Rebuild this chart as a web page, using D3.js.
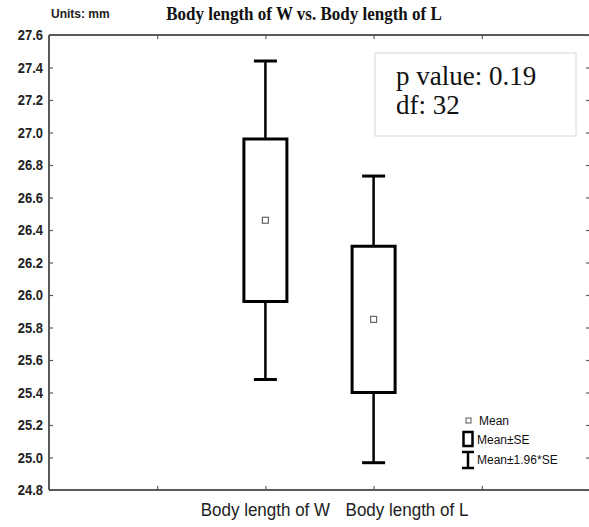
<!DOCTYPE html>
<html>
<head>
<meta charset="utf-8">
<script src="https://cdn.jsdelivr.net/npm/d3@7"></script>
<style>
  html, body { margin: 0; padding: 0; background: #fff; }
  svg { display: block; }
</style>
</head>
<body>
<svg id="chart" width="589" height="527"></svg>
<script>
// ---- data ----
const categories = ["Body length of W", "Body length of L"];
const means = [26.46, 25.85];
const standardErrors = [0.50, 0.45];
const seMultiplier = 1.96;
const yTickValues = [24.8, 25.0, 25.2, 25.4, 25.6, 25.8, 26.0, 26.2, 26.4, 26.6, 26.8, 27.0, 27.2, 27.4, 27.6];
const titleText = "Body length of W vs. Body length of L";
const unitsText = "Units: mm";
const statLines = ["p value: 0.19", "df: 32"];
const legendLabels = ["Mean", "Mean\u00B1SE", "Mean\u00B11.96*SE"];

(function () {
// ---- layout ----
const pLeft = 49, pRight = 590, pTop = 35, pBottom = 490;
const svg = d3.select("#chart");

const x = d3.scaleLinear().domain([-2, 3]).range([pLeft, pRight]);
const y = d3.scaleLinear().domain([24.8, 27.6]).range([pBottom, pTop]);

const axisColor = "#5a5a5a";

// frame lines
svg.append("line").attr("x1", pLeft).attr("x2", pRight).attr("y1", pTop).attr("y2", pTop)
  .attr("stroke", axisColor).attr("stroke-width", 2);
svg.append("line").attr("x1", pLeft).attr("x2", pRight).attr("y1", pBottom).attr("y2", pBottom)
  .attr("stroke", axisColor).attr("stroke-width", 2);
svg.append("line").attr("x1", pLeft).attr("x2", pLeft).attr("y1", pTop).attr("y2", pBottom)
  .attr("stroke", axisColor).attr("stroke-width", 2);

// left axis (inward ticks, labels outside)
const yAxisG = svg.append("g").attr("transform", `translate(${pLeft},0)`)
  .call(d3.axisRight(y).tickValues(yTickValues).tickSize(4).tickFormat(""));
yAxisG.select(".domain").remove();
yAxisG.selectAll(".tick line").attr("stroke", axisColor).attr("stroke-width", 1.2);

svg.append("g").selectAll("text").data(yTickValues).join("text")
  .attr("transform", d => `translate(${pLeft - 6},${y(d)}) scale(1,1.08)`)
  .attr("dy", "0.36em")
  .attr("text-anchor", "end")
  .attr("font-family", "Liberation Sans, Arial, sans-serif")
  .attr("font-weight", "bold").attr("font-size", 13).attr("fill", "#222")
  .text(d => d3.format(".1f")(d));

// right axis (inward ticks only)
const yAxisR = svg.append("g").attr("transform", `translate(${pRight},0)`)
  .call(d3.axisLeft(y).tickValues(yTickValues).tickSize(4).tickFormat(""));
yAxisR.select(".domain").remove();
yAxisR.selectAll(".tick line").attr("stroke", axisColor).attr("stroke-width", 1.2);

// top and bottom category ticks (inward)
const xTicks = [-1, 0, 1, 2];
const xTop = svg.append("g").attr("transform", `translate(0,${pTop})`)
  .call(d3.axisBottom(x).tickValues(xTicks).tickSize(4).tickFormat(""));
xTop.select(".domain").remove();
xTop.selectAll(".tick line").attr("stroke", axisColor).attr("stroke-width", 1.2);
const xBot = svg.append("g").attr("transform", `translate(0,${pBottom})`)
  .call(d3.axisTop(x).tickValues(xTicks).tickSize(4).tickFormat(""));
xBot.select(".domain").remove();
xBot.selectAll(".tick line").attr("stroke", axisColor).attr("stroke-width", 1.2);

// category labels (first centred on its tick, second set just after it)
const labelAnchor = ["middle", "start"];
const labelShift = [0, -28];
svg.append("g").selectAll("text").data(categories).join("text")
  .attr("transform", (d, i) => `translate(${x(i) + labelShift[i]},516) scale(1,1.06)`)
  .attr("text-anchor", (d, i) => labelAnchor[i])
  .attr("font-family", "Liberation Sans, Arial, sans-serif")
  .attr("font-size", 17).attr("fill", "#222")
  .text(d => d);

// ---- boxes ----
const boxW = 43, capW = 23;
const data = categories.map((c, i) => ({
  i, mean: means[i], se: standardErrors[i]
}));
const g = svg.append("g");
data.forEach(d => {
  const cx = x(d.i);
  const hi = d.mean + seMultiplier * d.se, lo = d.mean - seMultiplier * d.se;
  const bHi = d.mean + d.se, bLo = d.mean - d.se;
  g.append("line").attr("x1", cx).attr("x2", cx).attr("y1", y(hi)).attr("y2", y(bHi))
    .attr("stroke", "#000").attr("stroke-width", 2.5);
  g.append("line").attr("x1", cx).attr("x2", cx).attr("y1", y(bLo)).attr("y2", y(lo))
    .attr("stroke", "#000").attr("stroke-width", 2.5);
  g.append("line").attr("x1", cx - capW / 2).attr("x2", cx + capW / 2).attr("y1", y(hi)).attr("y2", y(hi))
    .attr("stroke", "#000").attr("stroke-width", 3);
  g.append("line").attr("x1", cx - capW / 2).attr("x2", cx + capW / 2).attr("y1", y(lo)).attr("y2", y(lo))
    .attr("stroke", "#000").attr("stroke-width", 3);
  g.append("rect").attr("x", cx - boxW / 2).attr("y", y(bHi))
    .attr("width", boxW).attr("height", y(bLo) - y(bHi))
    .attr("fill", "none").attr("stroke", "#000").attr("stroke-width", 3);
  g.append("rect").attr("x", cx - 3).attr("y", y(d.mean) - 3)
    .attr("width", 6).attr("height", 6)
    .attr("fill", "#fff").attr("stroke", "#666").attr("stroke-width", 1.2);
});

// ---- title ----
svg.append("text").attr("transform", "translate(304,20) scale(1,1.1)").attr("text-anchor", "middle")
  .attr("font-family", "Liberation Serif, Times New Roman, serif")
  .attr("font-weight", "bold").attr("font-size", 17).attr("fill", "#111")
  .text(titleText);
svg.append("text").attr("x", 51).attr("y", 18)
  .attr("font-family", "Liberation Sans, Arial, sans-serif")
  .attr("font-weight", "bold").attr("font-size", 12).attr("fill", "#222")
  .text(unitsText);

// ---- stats box ----
svg.append("rect").attr("x", 375).attr("y", 53).attr("width", 201).attr("height", 83)
  .attr("fill", "#fff").attr("stroke", "#e4e4e4").attr("stroke-width", 1.5);
svg.append("g").selectAll("text").data(statLines).join("text")
  .attr("x", 396).attr("y", (d, i) => 85 + i * 29)
  .attr("font-family", "Liberation Serif, Times New Roman, serif")
  .attr("font-size", 27).attr("fill", "#111")
  .text(d => d);

// ---- legend ----
const lg = svg.append("g").attr("font-family", "Liberation Sans, Arial, sans-serif")
  .attr("font-size", 12).attr("fill", "#111");
lg.append("rect").attr("x", 466).attr("y", 418).attr("width", 5).attr("height", 5)
  .attr("fill", "#fff").attr("stroke", "#555").attr("stroke-width", 1);
lg.append("text").attr("x", 479).attr("y", 425).text(legendLabels[0]);
lg.append("rect").attr("x", 463.5).attr("y", 432).attr("width", 9).attr("height", 14)
  .attr("fill", "none").attr("stroke", "#000").attr("stroke-width", 2.5);
lg.append("text").attr("x", 477).attr("y", 444).text(legendLabels[1]);
lg.append("line").attr("x1", 468).attr("x2", 468).attr("y1", 452).attr("y2", 468)
  .attr("stroke", "#000").attr("stroke-width", 2.5);
lg.append("line").attr("x1", 462).attr("x2", 474).attr("y1", 452).attr("y2", 452)
  .attr("stroke", "#000").attr("stroke-width", 2.5);
lg.append("line").attr("x1", 462).attr("x2", 474).attr("y1", 468).attr("y2", 468)
  .attr("stroke", "#000").attr("stroke-width", 2.5);
lg.append("text").attr("x", 477).attr("y", 464).text(legendLabels[2]);
})();
</script>
</body>
</html>
